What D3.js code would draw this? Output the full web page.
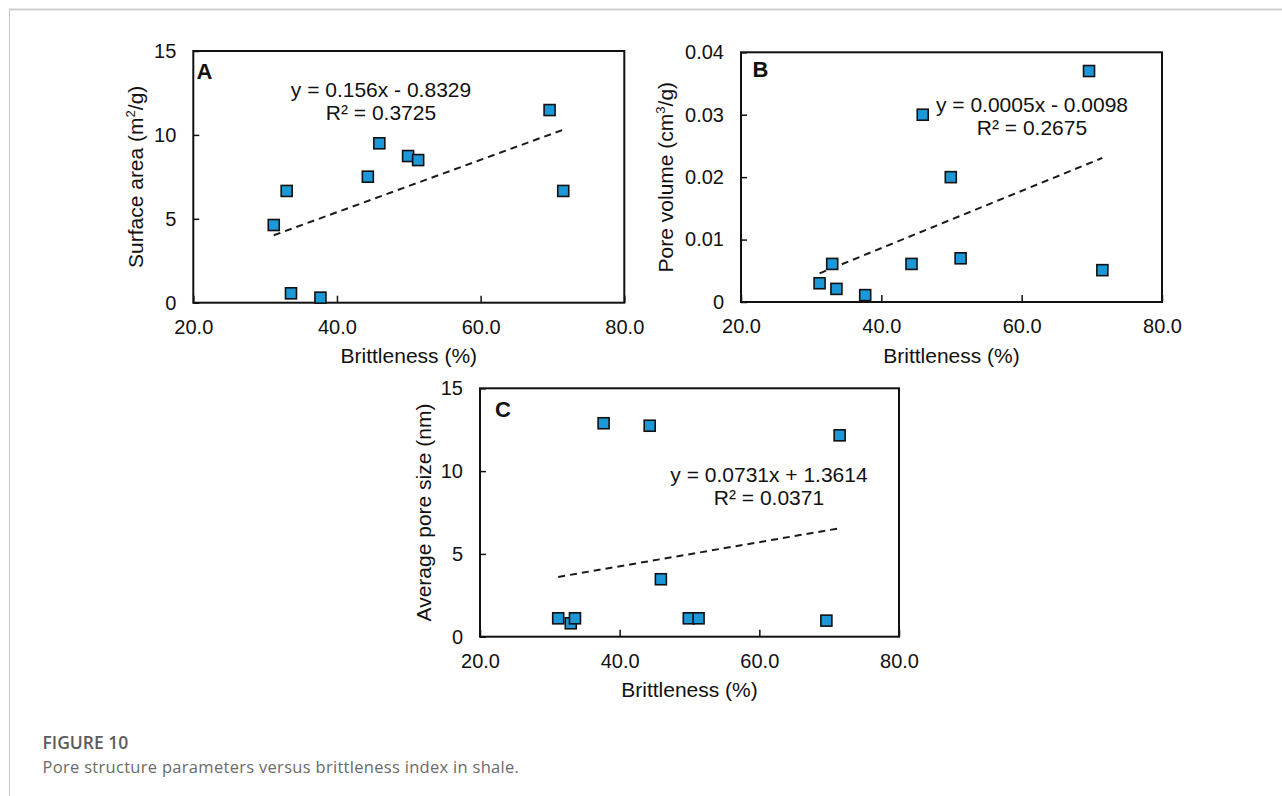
<!DOCTYPE html>
<html>
<head>
<meta charset="utf-8">
<script src="https://cdn.jsdelivr.net/npm/d3@7"></script>
<style>
  html, body { margin: 0; padding: 0; background: #fff; }
  svg { display: block; }
</style>
</head>
<body>
<svg id="fig" width="1282" height="796"></svg>
<script>
// Brittleness index (%) of the ten shale samples, shared by all three panels
const brittleness = [31.2, 33.0, 33.6, 37.7, 44.3, 45.9, 49.9, 51.3, 69.6, 71.5];
// Pore structure parameters for the same samples
const surfaceArea = [4.63, 6.66, 0.56, 0.30, 7.51, 9.50, 8.74, 8.50, 11.48, 6.66];      // m²/g
const poreVolume  = [0.0030, 0.0061, 0.0021, 0.0011, 0.0061, 0.0300, 0.0200, 0.0070, 0.0370, 0.0051]; // cm³/g
const avgPoreSize = [1.11, 0.81, 1.11, 12.89, 12.74, 3.47, 1.11, 1.11, 0.97, 12.16];     // nm

// Axis ticks
const xTicks = [20, 40, 60, 80];
const yTicksA = [0, 5, 10, 15];
const yTicksB = [0, 0.01, 0.02, 0.03, 0.04];
const yTicksC = [0, 5, 10, 15];

// Trendline equations as printed on each panel
const equationA = ["y = 0.156x - 0.8329", "R² = 0.3725"];
const equationB = ["y = 0.0005x - 0.0098", "R² = 0.2675"];
const equationC = ["y = 0.0731x + 1.3614", "R² = 0.0371"];

const FONT = '"Liberation Sans", Arial, sans-serif';

// Ordinary least-squares line through the points
function linearFit(xs, ys) {
  const mx = d3.mean(xs), my = d3.mean(ys);
  let sxy = 0, sxx = 0;
  xs.forEach((x, i) => { sxy += (x - mx) * (ys[i] - my); sxx += (x - mx) * (x - mx); });
  const slope = sxy / sxx;
  return { slope, intercept: my - slope * mx };
}

const panels = [
  { letter: "A", values: surfaceArea, yTicks: yTicksA, yMax: 15, eq: equationA,
    yFormat: d3.format("d"), titleMain: "Surface area (m", titleSup: "2", titleEnd: "/g)",
    box: { x0: 193.3, x1: 624.3, y0: 51, y1: 302.7 },
    letterPos: [196.5, 79], eqPos: [381, 97], yTitleOffset: 50 },
  { letter: "B", values: poreVolume, yTicks: yTicksB, yMax: 0.04, eq: equationB,
    yFormat: v => v === 0 ? "0" : d3.format(".2f")(v), titleMain: "Pore volume (cm", titleSup: "3", titleEnd: "/g)",
    box: { x0: 741, x1: 1162, y0: 52.3, y1: 302 },
    letterPos: [752.5, 77], eqPos: [1032, 111.7], yTitleOffset: 67.7 },
  { letter: "C", values: avgPoreSize, yTicks: yTicksC, yMax: 15, eq: equationC,
    yFormat: d3.format("d"), titleMain: "Average pore size (nm)", titleSup: null, titleEnd: "",
    box: { x0: 480, x1: 899, y0: 388.3, y1: 636.7 },
    letterPos: [495, 417], eqPos: [769, 481.7], yTitleOffset: 49.3 }
];

const svg = d3.select("#fig");

// Page frame lines
svg.append("line").attr("x1", 9).attr("x2", 1282).attr("y1", 9.5).attr("y2", 9.5)
  .attr("stroke", "#cfcfcf").attr("stroke-width", 2);
svg.append("line").attr("x1", 9.5).attr("x2", 9.5).attr("y1", 9).attr("y2", 796)
  .attr("stroke", "#c4c4c4").attr("stroke-width", 1);

function styleAxis(a) {
  a.attr("font-family", FONT).attr("font-size", 20);
  a.select(".domain").remove();
  a.selectAll(".tick line").attr("stroke", "#111").attr("stroke-width", 1.5);
  a.selectAll(".tick text").attr("fill", "#111")
    .attr("font-family", FONT).attr("font-size", 20);
}

panels.forEach(p => {
  const b = p.box;
  const x = d3.scaleLinear().domain([20, 80]).range([b.x0, b.x1]);
  const y = d3.scaleLinear().domain([0, p.yMax]).range([b.y1, b.y0]);
  const g = svg.append("g");

  // X axis with inward ticks
  g.append("g").attr("transform", `translate(0,${b.y1})`)
    .call(d3.axisBottom(x).tickValues(xTicks).tickFormat(d3.format(".1f"))
      .tickSizeInner(-7).tickSizeOuter(0).tickPadding(17))
    .call(styleAxis);

  // Y axis with inward ticks
  g.append("g").attr("transform", `translate(${b.x0},0)`)
    .call(d3.axisLeft(y).tickValues(p.yTicks).tickFormat(p.yFormat)
      .tickSizeInner(-6).tickSizeOuter(0).tickPadding(17))
    .call(styleAxis);

  // Plot frame
  g.append("rect").attr("x", b.x0).attr("y", b.y0)
    .attr("width", b.x1 - b.x0).attr("height", b.y1 - b.y0)
    .attr("fill", "none").attr("stroke", "#111").attr("stroke-width", 2);

  // Linear trendline over the data range
  const fit = linearFit(brittleness, p.values);
  const xr = d3.extent(brittleness);
  g.append("path")
    .attr("d", d3.line().x(d => x(d)).y(d => y(fit.slope * d + fit.intercept))(xr))
    .attr("fill", "none").attr("stroke", "#1a1a1a").attr("stroke-width", 2)
    .attr("stroke-dasharray", "7,5");

  // Sample markers
  const s = 11;
  g.selectAll("rect.pt").data(brittleness).join("rect").attr("class", "pt")
    .attr("x", d => x(d) - s / 2)
    .attr("y", (d, i) => y(p.values[i]) - s / 2)
    .attr("width", s).attr("height", s)
    .attr("fill", "#1c98d8").attr("stroke", "#111").attr("stroke-width", 1.6);

  // Panel letter
  g.append("text").attr("x", p.letterPos[0]).attr("y", p.letterPos[1])
    .attr("font-family", FONT).attr("font-size", 22).attr("font-weight", "bold")
    .attr("fill", "#111").text(p.letter);

  // Trendline equation
  const eq = g.append("text").attr("font-family", FONT).attr("font-size", 21)
    .attr("fill", "#111").attr("text-anchor", "middle");
  eq.append("tspan").attr("x", p.eqPos[0]).attr("y", p.eqPos[1]).text(p.eq[0]);
  eq.append("tspan").attr("x", p.eqPos[0]).attr("y", p.eqPos[1] + 23).text(p.eq[1]);

  // X axis title
  g.append("text").attr("x", (b.x0 + b.x1) / 2).attr("y", b.y1 + 60.5)
    .attr("font-family", FONT).attr("font-size", 21).attr("fill", "#111")
    .attr("text-anchor", "middle").text("Brittleness (%)");

  // Y axis title
  const yt = g.append("text")
    .attr("transform", `translate(${b.x0 - p.yTitleOffset},${(b.y0 + b.y1) / 2}) rotate(-90)`)
    .attr("font-family", FONT).attr("font-size", 21).attr("fill", "#111")
    .attr("text-anchor", "middle");
  yt.append("tspan").text(p.titleMain);
  if (p.titleSup) {
    yt.append("tspan").attr("font-size", 13).attr("dy", -8).text(p.titleSup);
    yt.append("tspan").attr("dy", 8).text(p.titleEnd);
  }
});

// Caption
svg.append("text").attr("x", 42.5).attr("y", 748.5)
  .attr("font-family", '"Open Sans", "Noto Sans", sans-serif').attr("font-size", 17.5)
  .attr("font-weight", 600).attr("fill", "#5c5c5c").text("FIGURE 10");
svg.append("text").attr("x", 42.5).attr("y", 773.3)
  .attr("font-family", '"Open Sans", "Noto Sans", sans-serif').attr("font-size", 16.5)
  .attr("letter-spacing", 0.3).attr("fill", "#6a6a6a")
  .text("Pore structure parameters versus brittleness index in shale.");
</script>
</body>
</html>
